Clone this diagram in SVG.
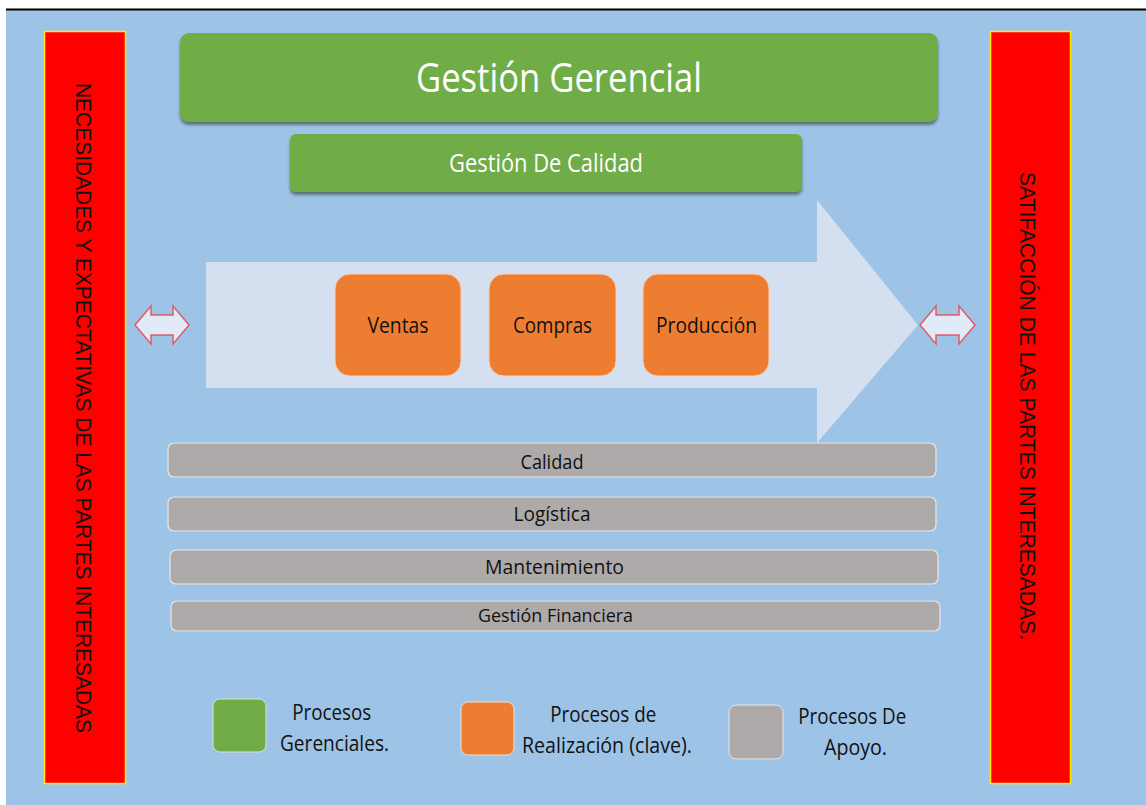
<svg xmlns="http://www.w3.org/2000/svg" width="1146" height="805" viewBox="0 0 1146 805">
  <style>
    .lbl { font-family: "Open Sans", "Liberation Sans", sans-serif; }
    .white { fill: #ffffff; }
    .dark { fill: #111111; }
    .bar { fill: #ff0000; stroke: #ffee00; stroke-width: 1.5; }
    .green { fill: #70ad47; }
    .orange { fill: #ed7d31; stroke: #f6d0b4; stroke-width: 1; }
    .gray { fill: #aeaaaa; stroke: #e8e8e8; stroke-width: 1.2; }
    .dbl { fill: #e0ebf7; stroke: #e05b6a; stroke-width: 1.5; }
  </style>
  <defs>
    <filter id="shadow" x="-5%" y="-20%" width="110%" height="160%">
      <feDropShadow dx="0" dy="3" stdDeviation="1.5" flood-color="#2a3a2a" flood-opacity="0.6"/>
    </filter>
  </defs>

  <!-- page -->
  <rect x="0" y="0" width="1146" height="805" fill="#ffffff"/>
  <rect x="6" y="10" width="1140" height="795" fill="#9dc3e6"/>
  <line x1="6" y1="9.5" x2="1146" y2="9.5" stroke="#000000" stroke-width="2"/>

  <!-- side bars -->
  <g id="necesidades">
    <rect class="bar" x="44.5" y="31.5" width="81" height="752"/>
    <text class="dark" font-family="'Liberation Sans', Arial, sans-serif" font-size="22" text-anchor="middle" transform="translate(84,408) rotate(90)" y="8" textLength="650" lengthAdjust="spacingAndGlyphs">NECESIDADES Y EXPECTATIVAS DE LAS PARTES INTERESADAS</text>
  </g>
  <g id="satisfaccion">
    <rect class="bar" x="990.5" y="31.5" width="80" height="752"/>
    <text class="dark" font-family="'Liberation Sans', Arial, sans-serif" font-size="22" text-anchor="middle" transform="translate(1028,406) rotate(90)" y="8" textLength="468" lengthAdjust="spacingAndGlyphs">SATIFACCIÓN DE LAS PARTES INTERESADAS.</text>
  </g>

  <!-- management processes -->
  <g id="gestion-gerencial">
    <rect class="green" x="180" y="33" width="758" height="89" rx="9" filter="url(#shadow)"/>
    <text class="lbl white" x="559" y="92" font-size="41" text-anchor="middle" textLength="286" lengthAdjust="spacingAndGlyphs">Gestión Gerencial</text>
  </g>
  <g id="gestion-calidad">
    <rect class="green" x="290" y="134" width="512" height="58" rx="6" filter="url(#shadow)"/>
    <text class="lbl white" x="546" y="172" font-size="26" text-anchor="middle" textLength="194" lengthAdjust="spacingAndGlyphs">Gestión De Calidad</text>
  </g>

  <!-- value chain arrow -->
  <g id="flujo">
    <polygon points="206,262 817,262 817,200 918,325 817,443 817,388 206,388" fill="#d4dff0"/>
  </g>

  <!-- key processes -->
  <g id="ventas">
    <rect class="orange" x="335" y="274" width="126" height="102" rx="15"/>
    <text class="lbl dark" x="398" y="333" font-size="22" text-anchor="middle" textLength="61" lengthAdjust="spacingAndGlyphs">Ventas</text>
  </g>
  <g id="compras">
    <rect class="orange" x="489" y="274" width="127" height="102" rx="15"/>
    <text class="lbl dark" x="552.5" y="333" font-size="22" text-anchor="middle" textLength="79" lengthAdjust="spacingAndGlyphs">Compras</text>
  </g>
  <g id="produccion">
    <rect class="orange" x="643" y="274" width="126" height="102" rx="15"/>
    <text class="lbl dark" x="706.5" y="333" font-size="22" text-anchor="middle" textLength="101" lengthAdjust="spacingAndGlyphs">Producción</text>
  </g>

  <!-- support processes -->
  <g id="calidad">
    <rect class="gray" x="168" y="443" width="768" height="34" rx="6"/>
    <text class="lbl dark" x="552" y="469" font-size="20" text-anchor="middle" textLength="63" lengthAdjust="spacingAndGlyphs">Calidad</text>
  </g>
  <g id="logistica">
    <rect class="gray" x="168" y="497" width="768" height="34" rx="6"/>
    <text class="lbl dark" x="552" y="521" font-size="20" text-anchor="middle" textLength="77" lengthAdjust="spacingAndGlyphs">Logística</text>
  </g>
  <g id="mantenimiento">
    <rect class="gray" x="170" y="550" width="768" height="34" rx="6"/>
    <text class="lbl dark" x="554.5" y="574" font-size="20" text-anchor="middle" textLength="139" lengthAdjust="spacingAndGlyphs">Mantenimiento</text>
  </g>
  <g id="gestion-financiera">
    <rect class="gray" x="171" y="601" width="769" height="30" rx="6"/>
    <text class="lbl dark" x="555.5" y="622" font-size="19" text-anchor="middle" textLength="155" lengthAdjust="spacingAndGlyphs">Gestión Financiera</text>
  </g>

  <!-- two-way exchange arrows -->
  <g id="conectores">
    <polygon class="dbl" points="135,325 151,306 151,315 173,315 173,306 189,325 173,344 173,335 151,335 151,344"/>
    <polygon class="dbl" points="920,325 936,306 936,315 959,315 959,306 975,325 959,344 959,335 936,335 936,344"/>
  </g>

  <!-- legend -->
  <g id="leyenda-gerenciales">
    <rect class="green" x="213" y="699" width="53" height="53" rx="7" stroke="#d8e8c8" stroke-width="1"/>
    <text class="lbl dark" font-size="21" text-anchor="middle">
      <tspan x="334.5" y="720" textLength="79" lengthAdjust="spacingAndGlyphs">Procesos</tspan>
      <tspan x="334.5" y="751" textLength="109" lengthAdjust="spacingAndGlyphs">Gerenciales.</tspan>
    </text>
  </g>
  <g id="leyenda-realizacion">
    <rect x="461" y="702" width="53" height="53" rx="7" fill="#ed7d31" stroke="#f0e0d0" stroke-width="1"/>
    <text class="lbl dark" font-size="21" text-anchor="middle">
      <tspan x="606" y="722" textLength="106" lengthAdjust="spacingAndGlyphs">Procesos de</tspan>
      <tspan x="607" y="753" textLength="170" lengthAdjust="spacingAndGlyphs">Realización (clave).</tspan>
    </text>
  </g>
  <g id="leyenda-apoyo">
    <rect x="729" y="705" width="54" height="54" rx="7" fill="#aeaaaa" stroke="#e8e8e8" stroke-width="1"/>
    <text class="lbl dark" font-size="21" text-anchor="middle">
      <tspan x="855" y="724" textLength="108" lengthAdjust="spacingAndGlyphs">Procesos De</tspan>
      <tspan x="855.5" y="755" textLength="63" lengthAdjust="spacingAndGlyphs">Apoyo.</tspan>
    </text>
  </g>
</svg>
